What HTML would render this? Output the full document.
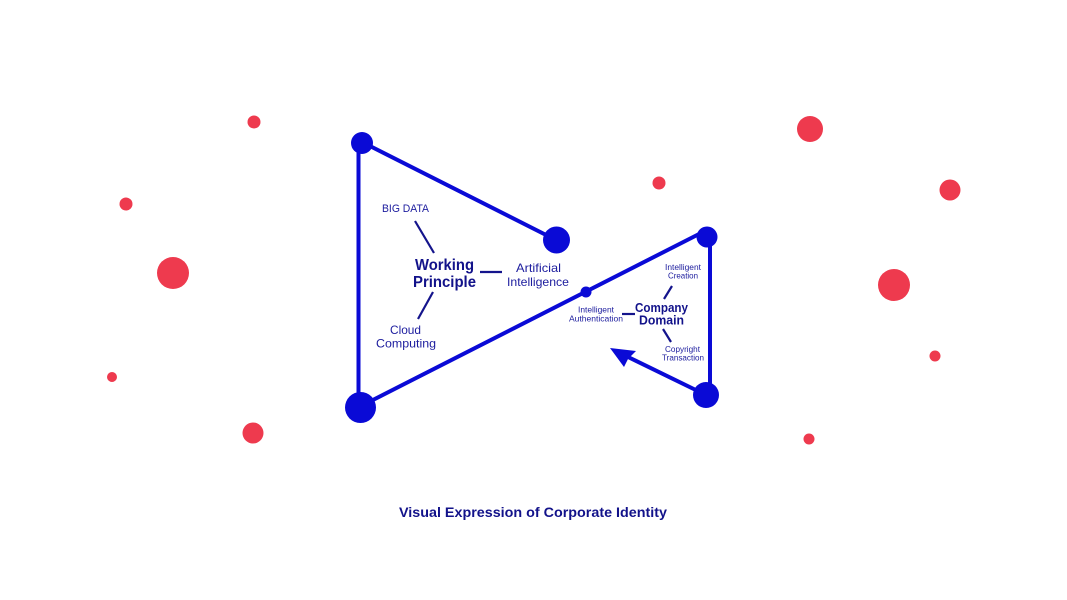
<!DOCTYPE html>
<html>
<head>
<meta charset="utf-8">
<style>
html,body{margin:0;padding:0;background:#fff;}
svg{display:block;}
text{font-family:"Liberation Sans",sans-serif;}
</style>
</head>
<body>
<svg width="1067" height="600" viewBox="0 0 1067 600" xmlns="http://www.w3.org/2000/svg">
<rect width="1067" height="600" fill="#fff"/>
<!-- red dots -->
<g fill="#ee3a4e">
<circle cx="254" cy="122" r="6.5"/>
<circle cx="126" cy="204" r="6.5"/>
<circle cx="173" cy="273" r="16"/>
<circle cx="112" cy="377" r="5"/>
<circle cx="253" cy="433" r="10.5"/>
<circle cx="810" cy="129" r="13"/>
<circle cx="950" cy="190" r="10.5"/>
<circle cx="894" cy="285" r="16"/>
<circle cx="935" cy="356" r="5.5"/>
<circle cx="809" cy="439" r="5.5"/>
<circle cx="659" cy="183" r="6.5"/>
</g>
<!-- blue structure -->
<g stroke="#0a0ad6" stroke-width="4" fill="none" stroke-linecap="round">
<line x1="362" y1="142" x2="556" y2="240"/>
<line x1="358.5" y1="143" x2="358.5" y2="407"/>
<line x1="365" y1="404" x2="705" y2="231"/>
<line x1="710" y1="237" x2="710" y2="395"/>
<line x1="706" y1="395" x2="624" y2="355"/>
</g>
<polygon points="610,348 636,351 628,359 624,367" fill="#0a0ad6"/>
<g fill="#0a0ad6">
<circle cx="362" cy="143" r="11"/>
<circle cx="360.5" cy="407.5" r="15.5"/>
<circle cx="556.5" cy="240" r="13.5"/>
<circle cx="707" cy="237" r="10.5"/>
<circle cx="706" cy="395" r="13"/>
<circle cx="586" cy="292" r="5.5"/>
</g>
<!-- connectors -->
<g stroke="#14148c" stroke-width="2.2" fill="none">
<line x1="415" y1="221" x2="434" y2="253"/>
<line x1="480" y1="272" x2="502" y2="272"/>
<line x1="433" y1="292" x2="418" y2="319"/>
<line x1="672" y1="286" x2="664" y2="299"/>
<line x1="622" y1="314" x2="635" y2="314"/>
<line x1="663" y1="329" x2="671" y2="342"/>
</g>
<!-- left labels -->
<g fill="#1c1c9e" lengthAdjust="spacingAndGlyphs">
<text x="382" y="212" font-size="11" textLength="47" lengthAdjust="spacingAndGlyphs">BIG DATA</text>
<text x="516" y="272" font-size="12" textLength="45" lengthAdjust="spacingAndGlyphs">Artificial</text>
<text x="507" y="286" font-size="12" textLength="62" lengthAdjust="spacingAndGlyphs">Intelligence</text>
<text x="390" y="334" font-size="12" textLength="31" lengthAdjust="spacingAndGlyphs">Cloud</text>
<text x="376" y="347.5" font-size="12" textLength="60" lengthAdjust="spacingAndGlyphs">Computing</text>
</g>
<g fill="#12128a" font-weight="bold">
<text x="415" y="270" font-size="16" textLength="59" lengthAdjust="spacingAndGlyphs">Working</text>
<text x="413" y="287" font-size="16" textLength="63" lengthAdjust="spacingAndGlyphs">Principle</text>
<text x="635" y="312" font-size="13" textLength="53" lengthAdjust="spacingAndGlyphs">Company</text>
<text x="639" y="324.5" font-size="13" textLength="45" lengthAdjust="spacingAndGlyphs">Domain</text>
<text x="399" y="517" font-size="14" textLength="268" lengthAdjust="spacingAndGlyphs">Visual Expression of Corporate Identity</text>
</g>
<!-- right small labels -->
<g fill="#1c1c9e" font-size="8.5">
<text x="665" y="270" textLength="36" lengthAdjust="spacingAndGlyphs">Intelligent</text>
<text x="668" y="278.5" textLength="30" lengthAdjust="spacingAndGlyphs">Creation</text>
<text x="578" y="312.5" textLength="36" lengthAdjust="spacingAndGlyphs">Intelligent</text>
<text x="569" y="321.5" textLength="54" lengthAdjust="spacingAndGlyphs">Authentication</text>
<text x="665" y="352" textLength="35" lengthAdjust="spacingAndGlyphs">Copyright</text>
<text x="662" y="360.5" textLength="42" lengthAdjust="spacingAndGlyphs">Transaction</text>
</g>
</svg>
</body>
</html>
